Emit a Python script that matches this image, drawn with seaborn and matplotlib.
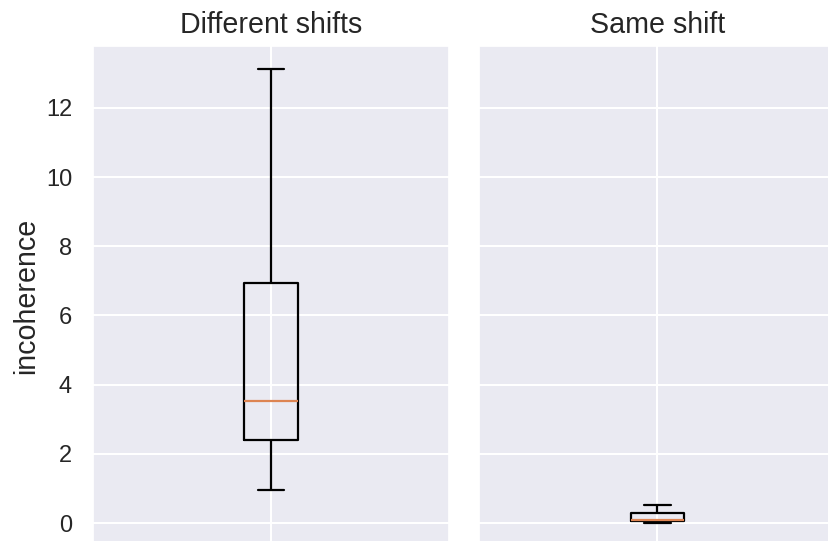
import matplotlib
matplotlib.use("Agg")
import matplotlib.pyplot as plt
import seaborn as sns

sns.set_theme(style="darkgrid", rc={"grid.linewidth": 1.5})
plt.rcParams['font.family'] = ['Liberation Sans', 'DejaVu Sans']

titles = ["Different shifts", "Same shift"]
whislo = [0.95, 0.0]
q1 = [2.40, 0.06]
med = [3.53, 0.09]
q3 = [6.94, 0.29]
whishi = [13.13, 0.52]
yticks = [0, 2, 4, 6, 8, 10, 12]

fig, axes = plt.subplots(1, 2, figsize=(8.29, 5.41), dpi=100, sharey=True)
fig.subplots_adjust(left=0.112, right=1.008, top=0.915, bottom=-0.009, wspace=0.084)

for i, ax in enumerate(axes):
    stats = [dict(whislo=whislo[i], q1=q1[i], med=med[i], q3=q3[i], whishi=whishi[i], fliers=[])]
    ax.bxp(stats, showfliers=False,
           boxprops=dict(color="black", linewidth=1.6),
           whiskerprops=dict(color="black", linewidth=1.6),
           capprops=dict(color="black", linewidth=1.6),
           medianprops=dict(color="#dd8452", linewidth=1.6))
    ax.set_title(titles[i], fontsize=20.6, pad=9)
    ax.set_xticks([1])
    ax.set_xticklabels([""])
    ax.tick_params(axis="y", labelsize=17, pad=9)

axes[0].set_yticks(yticks)
axes[0].set_ylabel("incoherence", fontsize=20.6, labelpad=4)
axes[0].set_xlim(0.5, 1.5)
axes[1].set_xlim(0.5, 1.5)

fig.savefig("out.png", dpi=100)
